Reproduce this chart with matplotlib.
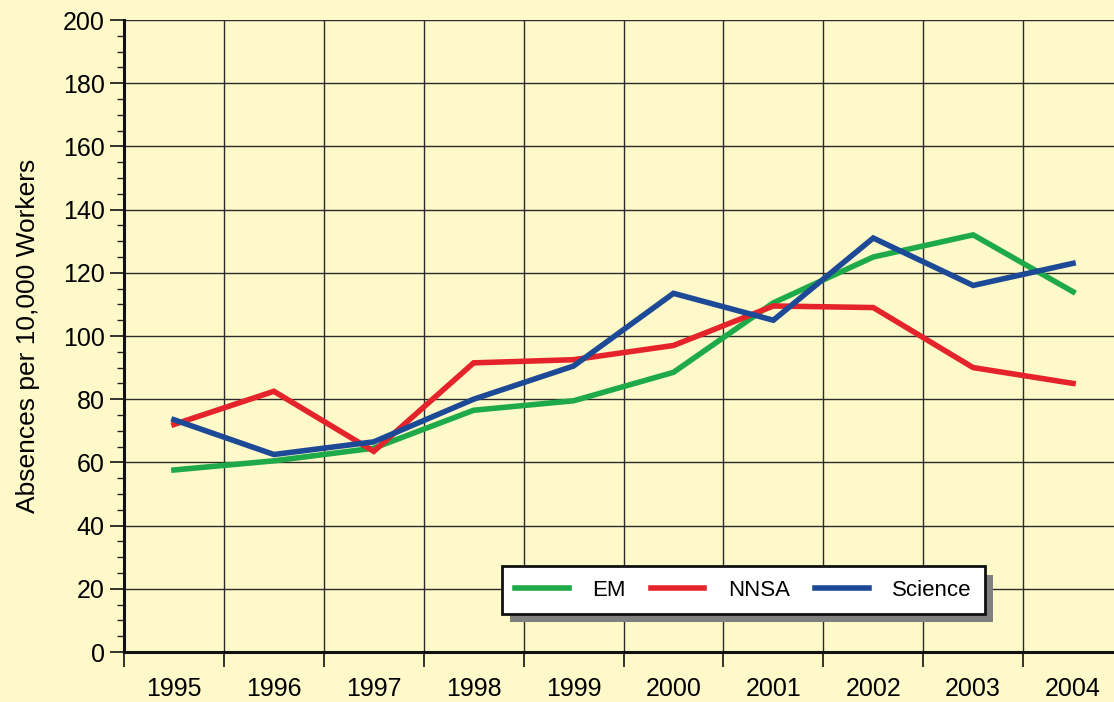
import numpy as np
import matplotlib
matplotlib.use('Agg')
import matplotlib.pyplot as plt
from matplotlib.ticker import FixedLocator, NullFormatter

# -- datos ----------------------------------------------------------------------------------
anios = ['1995', '1996', '1997', '1998', '1999', '2000', '2001', '2002', '2003', '2004']
em = [57.6, 60.5, 64.5, 76.5, 79.5, 88.5, 110.5, 125.0, 132.0, 114.0]
nnsa = [72.0, 82.5, 63.5, 91.5, 92.5, 97.0, 109.5, 109.0, 90.0, 85.0]
science = [73.5, 62.5, 66.5, 80.0, 90.5, 113.5, 105.0, 131.0, 116.0, 123.0]

# -- estilo ---------------------------------------------------------------------------------
fondo = '#FEF9C9'
colores = {'EM': '#1EAA48', 'NNSA': '#E5232A', 'Science': '#1D4A96'}
plt.rcParams['font.family'] = ['Liberation Sans', 'DejaVu Sans']

fig = plt.figure(figsize=(11.14, 7.02), dpi=100, facecolor=fondo)
ax = fig.add_axes([124 / 1114, 50 / 702, 999 / 1114, 632 / 702], facecolor=fondo)

x = np.arange(len(anios))
ax.plot(x, em, color=colores['EM'], lw=4.0, label='EM', solid_joinstyle='miter', zorder=3)
ax.plot(x, nnsa, color=colores['NNSA'], lw=4.0, label='NNSA', solid_joinstyle='miter', zorder=3)
ax.plot(x, science, color=colores['Science'], lw=4.0, label='Science', solid_joinstyle='miter',
        zorder=3)

ax.set_xlim(-0.5, len(anios) - 0.5)
ax.set_ylim(0, 200)

# ejes x: marcas en los limites de categoria, etiquetas al centro
ax.xaxis.set_major_locator(FixedLocator(np.arange(-0.5, len(anios), 1.0)))
ax.xaxis.set_major_formatter(NullFormatter())
ax.set_xticks(x, anios, minor=True)
ax.tick_params(axis='x', which='major', direction='out', length=11, width=1.3, color='#222222')
ax.tick_params(axis='x', which='minor', length=0, pad=18, labelsize=18)

# eje y
ax.set_yticks(np.arange(0, 201, 20))
ax.yaxis.set_minor_locator(FixedLocator([v for v in range(0, 201, 5) if v % 20]))
ax.tick_params(axis='y', which='major', direction='out', length=10, width=1.3,
               color='#222222', pad=4, labelsize=18)
ax.tick_params(axis='y', which='minor', direction='out', length=5, width=1.0, color='#222222')
ax.set_ylabel('Absences per 10,000 Workers', fontsize=19, labelpad=16)

ax.grid(True, which='major', color='#2b2b2b', lw=1.0)
for s in ['top', 'right']:
    ax.spines[s].set_visible(False)
for s in ['left', 'bottom']:
    ax.spines[s].set_linewidth(2.2)
    ax.spines[s].set_color('#111111')
    ax.spines[s].set_zorder(4)

leg = ax.legend(loc='center', bbox_to_anchor=(0.62, 0.098), ncol=3, fontsize=16,
                frameon=True, fancybox=False,
                shadow={'ox': 6, 'oy': -6, 'facecolor': '#808080', 'edgecolor': 'none',
                        'alpha': 1},
                framealpha=1, edgecolor='#111111', handlelength=2.4, handletextpad=1.05,
                columnspacing=1.15, borderpad=0.6)
leg.get_frame().set_linewidth(2.0)
leg.set_zorder(5)

fig.savefig('out.png', dpi=100, facecolor=fondo)
